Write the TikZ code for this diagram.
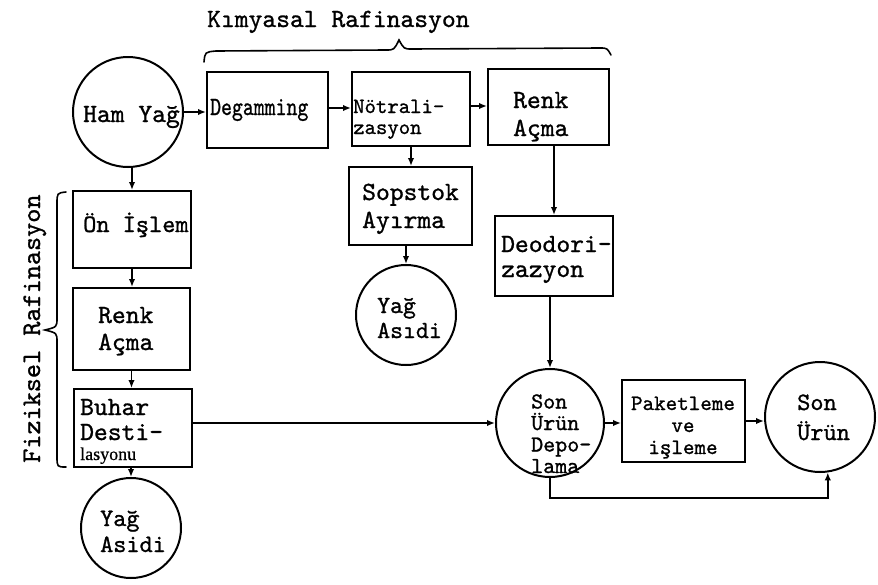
\documentclass[tikz,border=0pt]{standalone}
\usepackage{fontspec}
\usepackage{graphicx}
\newfontfamily\monof[FakeBold=1]{lmmono10-regular.otf}
\newfontfamily\seriff[FakeBold=0.6]{Liberation Serif}
\usetikzlibrary{arrows.meta,calc}
\tikzset{
 box/.style={draw, line width=2pt, rectangle, inner sep=0pt},
 circ/.style={draw, line width=2pt, circle, inner sep=0pt},
 lbl/.style={inner sep=0pt, align=left, anchor=base west, font=\monof\fontsize{26.3}{28}\selectfont},
 arr/.style={line width=1.6pt, -{Latex[length=8pt,width=6.5pt]}},
 brc/.style={line width=1.6pt, line cap=round},
}
\begin{document}
\begin{tikzpicture}[x=1pt,y=-1pt]
\useasboundingbox (0,0) rectangle (878,584);
% boxes
\node[box, minimum width=121pt, minimum height=76pt] (deg) at (267.5,110) {};
\node[box, minimum width=118pt, minimum height=74pt] (neut) at (411,109) {};
\node[box, minimum width=121pt, minimum height=76pt] (renk) at (548.5,107) {};
\node[box, minimum width=123pt, minimum height=78pt] (sop) at (410.5,206) {};
\node[box, minimum width=118pt, minimum height=80pt] (deo) at (554,256) {};
\node[box, minimum width=118pt, minimum height=77pt] (on) at (132,229.5) {};
\node[box, minimum width=117pt, minimum height=82pt] (renkb) at (131.5,329) {};
\node[box, minimum width=118pt, minimum height=78pt] (buh) at (133,428) {};
\node[box, minimum width=123pt, minimum height=82pt] (pak) at (683.5,421) {};
% circles
\node[circ, minimum size=110pt] (ham) at (128,112) {};
\node[circ, minimum size=100pt] (asia) at (406,315) {};
\node[circ, minimum size=100pt] (asib) at (131,528) {};
\node[circ, minimum size=108pt] (depo) at (550,423) {};
\node[circ, minimum size=110pt] (son) at (820,417) {};
% labels (multi-line nodes: base = last line's baseline)
\node[lbl] (hamT) at (83,122) {Ham Yağ};
\node[lbl] (degT) at (210,115) {\scalebox{0.79}[1]{Degamming}};
\node[lbl, font=\monof\fontsize{21.7}{21}\selectfont] (neutT) at (353,134) {Nötrali-\\zasyon};
\node[lbl] (renkT) at (513,136) {Renk\\Açma};
\node[lbl] (sopT) at (362,228) {Sopstok\\Ayırma};
\node[lbl, font=\monof\fontsize{24.6}{25}\selectfont] (asiaT) at (377,338) {Yağ\\Asıdi};
\node[lbl, font=\monof\fontsize{26.3}{25}\selectfont] (deoT) at (501,277) {Deodori-\\zazyon};
\node[lbl, font=\monof\fontsize{25.1}{26}\selectfont] (onT) at (83,232) {Ön İşlem};
\node[lbl, font=\monof\fontsize{26.3}{27}\selectfont] (renkbT) at (98,350) {Renk\\Açma};
\node[lbl, font=\monof\fontsize{26.3}{25}\selectfont] (buhT) at (80,460) {Buhar\\Desti-\\[-5pt]{\seriff\fontsize{18}{20}\selectfont lasyonu}};
\node[lbl, font=\monof\fontsize{25}{26}\selectfont] (asibT) at (100,552) {Yağ\\Asidi};
\node[lbl, font=\monof\fontsize{22.9}{21.5}\selectfont] (depoT) at (531,473) {Son\\Ürün\\Depo-\\lama};
\node[lbl, align=center, anchor=base, font=\monof\fontsize{22}{22}\selectfont] (pakT) at (683,454) {Paketleme\\ve\\işleme};
\node[lbl, font=\monof\fontsize{25.1}{30}\selectfont] (sonT) at (797,440) {Son\\Ürün};
\node[lbl] (kimT) at (207,27) {Kımyasal Rafinasyon};
\node[lbl, rotate=90, font=\monof\fontsize{26.9}{28}\selectfont] (fizT) at (40,463) {Fiziksel Rafinasyon};
% braces
\draw[brc] (204,62) .. controls (205,52) .. (216,51) -- (386,50) .. controls (394,50) .. (399,40) .. controls (404,49) .. (412,49) -- (600,48) .. controls (607,48) .. (611,55);
\draw[brc] (66,192) .. controls (57,193) .. (57,204) -- (57,318) .. controls (57,327) .. (45,330) .. controls (57,333) .. (57,342) -- (57,456) .. controls (57,467) .. (66,467);
% arrows
\draw[arr] (ham.east) -- (ham.east -| deg.west);
\draw[arr] (deg.east |- 0,108) -- (neut.west |- 0,108);
\draw[arr] (neut.east |- 0,106) -- (renk.west |- 0,106);
\draw[arr] (neut.south) -- (neut.south |- sop.north);
\draw[arr] (sop.south -| asia.north) -- (asia.north);
\draw[arr] (renk.south -| deo.north) -- (deo.north);
\draw[arr] (deo.south -| depo.north) -- (depo.north);
\draw[arr] (ham.south -| on.north) -- (on.north);
\draw[arr] (on.south) -- (on.south |- renkb.north);
\draw[arr] (renkb.south) -- (renkb.south |- buh.north);
\draw[arr] (buh.south -| asib.north) -- (asib.north);
\draw[arr] (buh.east |- depo.west) -- (depo.west);
\draw[arr] (depo.east) -- (depo.east -| pak.west);
\draw[arr] (pak.east) -- (pak.east -| son.west);
\draw[arr] (depo.south) -- (depo.south |- 0,498) -- (son.-82 |- 0,498) -- (son.-82);
\end{tikzpicture}
\end{document}
